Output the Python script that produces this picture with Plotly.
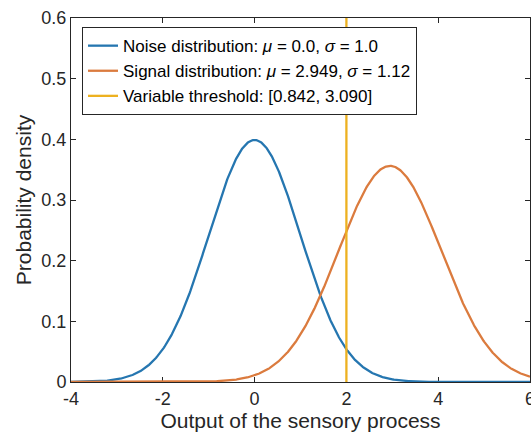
import numpy as np
import plotly.graph_objects as go

# Distribution parameters (noise and signal) and the decision threshold
noise_mu, noise_sigma = 0.0, 1.0
signal_mu, signal_sigma = 2.949, 1.12
threshold_x = 2.0
threshold_bounds = [0.842, 3.090]

# Axis settings
x_range = [-4, 6]
y_range = [0, 0.6]
x_ticks = [-4, -2, 0, 2, 4, 6]
y_ticks = [0, 0.1, 0.2, 0.3, 0.4, 0.5, 0.6]

x = np.linspace(x_range[0], x_range[1], 801)


def normal_pdf(v, mu, sigma):
    return np.exp(-0.5 * ((v - mu) / sigma) ** 2) / (sigma * np.sqrt(2 * np.pi))


blue = "#2576B0"
orange = "#DB7B3E"
yellow = "#EDB120"
axis_col = "#262626"
font_family = "Liberation Sans, Arial, Helvetica, sans-serif"

fig = go.Figure()
fig.add_trace(go.Scatter(
    x=x, y=normal_pdf(x, noise_mu, noise_sigma), mode="lines",
    line=dict(color=blue, width=2.3),
    name=f"Noise distribution: <i>μ</i> = {noise_mu:.1f}, <i>σ</i> = {noise_sigma:.1f}",
))
fig.add_trace(go.Scatter(
    x=x, y=normal_pdf(x, signal_mu, signal_sigma), mode="lines",
    line=dict(color=orange, width=2.3),
    name=f"Signal distribution: <i>μ</i> = {signal_mu:.3f}, <i>σ</i> = {signal_sigma:.2f}",
))
fig.add_trace(go.Scatter(
    x=[threshold_x, threshold_x], y=y_range, mode="lines",
    line=dict(color=yellow, width=2.3),
    name=f"Variable threshold: [{threshold_bounds[0]:.3f}, {threshold_bounds[1]:.3f}]",
))

axis_common = dict(
    showgrid=False, zeroline=False, showline=True, linecolor=axis_col, linewidth=1,
    mirror="ticks", ticks="inside", ticklen=5, tickwidth=1, tickcolor=axis_col,
    tickfont=dict(size=18, color=axis_col, family=font_family),
    layer="below traces", ticklabeloverflow="allow", automargin=False,
)

fig.update_layout(
    width=531, height=432,
    margin=dict(l=71, r=1, t=18, b=50),
    paper_bgcolor="white", plot_bgcolor="white",
    font=dict(family=font_family, color=axis_col),
    showlegend=True,
    legend=dict(
        x=0.024, y=0.975, xanchor="left", yanchor="top",
        bgcolor="white", bordercolor=axis_col, borderwidth=1,
        font=dict(size=17, color="#000000", family=font_family),
        itemwidth=30, tracegroupgap=0,
    ),
    xaxis=dict(
        range=x_range, tickvals=x_ticks, ticktext=[str(t) for t in x_ticks],
        title=dict(text="Output of the sensory process", font=dict(size=21, color=axis_col), standoff=4),
        **axis_common,
    ),
    yaxis=dict(
        range=y_range, tickvals=y_ticks, ticktext=["0", "0.1", "0.2", "0.3", "0.4", "0.5", "0.6"],
        title=dict(text="Probability density", font=dict(size=21, color=axis_col), standoff=4),
        **axis_common,
    ),
)

fig.write_html("out.html")
